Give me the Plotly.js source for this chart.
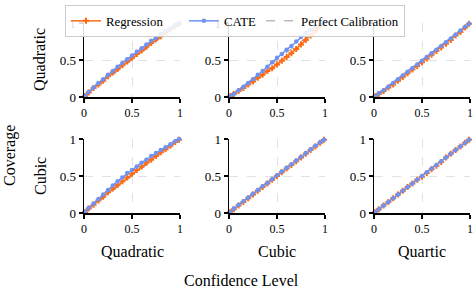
<!DOCTYPE html>
<html>
<head>
<meta charset="utf-8">
<script src="https://cdn.plot.ly/plotly-3.0.1.min.js"></script>
<style>html,body{margin:0;padding:0;background:#fff}#chart{width:476px;height:290px}</style>
</head>
<body>
<div id="chart"></div>
<script>
// Confidence levels (x)
const levels = [0.01,0.05,0.10,0.15,0.20,0.25,0.30,0.35,0.40,0.45,0.50,0.55,0.60,0.65,0.70,0.75,0.80,0.85,0.90,0.95,0.99];

// Row labels (y) and column labels (x)
const rowLabels = ["Quadratic", "Cubic"];
const colLabels = ["Quadratic", "Cubic", "Quartic"];
const tickVals = [0, 0.5, 1];
const tickText = ["0", "0.5", "1"];
const seriesNames = ["Regression", "CATE", "Perfect Calibration"];
const calibX = [0, 1];
const calibY = [0, 1];

// Coverage per panel (row, col)
const reg_r1c1  = [0.01,0.06,0.12,0.17,0.22,0.28,0.33,0.38,0.43,0.48,0.53,0.58,0.63,0.68,0.73,0.78,0.82,0.87,0.92,0.96,0.99];
const cate_r1c1 = [0.02,0.07,0.13,0.19,0.24,0.30,0.35,0.41,0.46,0.51,0.56,0.61,0.66,0.71,0.76,0.80,0.85,0.89,0.93,0.97,0.995];
const reg_r1c2  = [0.01,0.04,0.08,0.12,0.17,0.21,0.26,0.30,0.35,0.39,0.44,0.49,0.54,0.59,0.65,0.71,0.77,0.83,0.90,0.96,0.99];
const cate_r1c2 = [0.01,0.04,0.09,0.14,0.19,0.24,0.30,0.35,0.41,0.47,0.53,0.58,0.64,0.69,0.75,0.81,0.86,0.91,0.96,0.99,1.00];
const reg_r1c3  = [0.01,0.04,0.08,0.13,0.17,0.22,0.27,0.32,0.37,0.42,0.47,0.52,0.57,0.62,0.67,0.72,0.77,0.83,0.88,0.94,0.99];
const cate_r1c3 = [0.01,0.05,0.09,0.14,0.19,0.24,0.29,0.34,0.39,0.44,0.49,0.54,0.59,0.64,0.69,0.74,0.79,0.84,0.90,0.95,0.99];
const reg_r2c1  = [0.01,0.06,0.11,0.17,0.22,0.28,0.33,0.38,0.43,0.48,0.53,0.58,0.63,0.68,0.72,0.77,0.82,0.86,0.91,0.96,0.99];
const cate_r2c1 = [0.02,0.07,0.13,0.19,0.25,0.31,0.37,0.43,0.48,0.54,0.58,0.63,0.68,0.72,0.77,0.81,0.85,0.89,0.93,0.97,1.00];
const reg_r2c2  = [0.01,0.05,0.10,0.15,0.20,0.25,0.30,0.35,0.40,0.45,0.50,0.55,0.60,0.65,0.70,0.75,0.80,0.85,0.90,0.95,0.99];
const cate_r2c2 = [0.01,0.06,0.11,0.16,0.21,0.26,0.31,0.36,0.41,0.46,0.51,0.56,0.61,0.66,0.71,0.76,0.81,0.86,0.91,0.96,0.99];
const reg_r2c3  = [0.01,0.05,0.10,0.15,0.20,0.25,0.30,0.35,0.40,0.45,0.49,0.54,0.59,0.64,0.69,0.75,0.80,0.85,0.90,0.95,0.99];
const cate_r2c3 = [0.01,0.05,0.10,0.15,0.20,0.25,0.30,0.35,0.40,0.45,0.50,0.55,0.60,0.65,0.70,0.75,0.80,0.85,0.90,0.95,0.99];

const panels = [
  [reg_r1c1, cate_r1c1], [reg_r1c2, cate_r1c2], [reg_r1c3, cate_r1c3],
  [reg_r2c1, cate_r2c1], [reg_r2c2, cate_r2c2], [reg_r2c3, cate_r2c3]
];

const W = 476, H = 290;
const ORANGE = "#FF6A13", BLUE = "#6E93F2";
const FONT = "Liberation Serif";
const PAD = "\u00a0\u00a0\u00a0\u00a0\u00a0";

const colPx = [[84,180],[229,325],[374,470]];
const rowPx = [[23,97],[139,213]];

const traces = [];
const layout = {
  width: W, height: H,
  margin: {l:0, r:0, t:0, b:0},
  paper_bgcolor: "#fff", plot_bgcolor: "#fff",
  font: {family: FONT, size: 12, color: "#000"},
  showlegend: true,
  legend: {
    orientation: "h", x: 65/W, y: 1 - 5/H, xanchor: "left", yanchor: "top",
    bgcolor: "rgba(255,255,255,0.85)", bordercolor: "#cccccc", borderwidth: 1,
    font: {family: FONT, size: 12.8, color: "#000"}, itemwidth: 30, tracegroupgap: 0
  },
  annotations: []
};

panels.forEach((p, i) => {
  const r = Math.floor(i / 3), c = i % 3;
  const n = i + 1;
  const xa = n === 1 ? "x" : "x" + n;
  const ya = n === 1 ? "y" : "y" + n;
  const axCommon = {
    range: [0, 1], tickvals: tickVals, ticktext: tickText,
    showline: true, linecolor: "#000", linewidth: 1.5,
    ticks: "outside", ticklen: 4, tickwidth: 1.3, tickcolor: "#000",
    showgrid: true, gridcolor: "#e2e2e2", griddash: "dash", gridwidth: 1,
    zeroline: false, fixedrange: true
  };
  layout["xaxis" + (n === 1 ? "" : n)] = Object.assign({}, axCommon, {
    domain: [colPx[c][0] / W, colPx[c][1] / W], anchor: ya,
    tickfont: {family: FONT, size: 12, color: "#000"}
  });
  layout["yaxis" + (n === 1 ? "" : n)] = Object.assign({}, axCommon, {
    domain: [1 - rowPx[r][1] / H, 1 - rowPx[r][0] / H], anchor: xa,
    tickfont: {family: FONT, size: 13, color: "#000"}
  });
  traces.push({
    x: calibX, y: calibY, xaxis: xa, yaxis: ya, mode: "lines",
    line: {color: "#999", width: 1, dash: "dash"},
    name: seriesNames[2], showlegend: i === 0, legendrank: 3, cliponaxis: false
  });
  traces.push({
    x: levels, y: p[0], xaxis: xa, yaxis: ya, mode: "lines+markers",
    line: {color: ORANGE, width: 1.5},
    marker: {symbol: "cross", size: 5, color: ORANGE},
    name: seriesNames[0] + PAD, showlegend: i === 0, legendrank: 1, cliponaxis: false
  });
  traces.push({
    x: levels, y: p[1], xaxis: xa, yaxis: ya, mode: "lines+markers",
    line: {color: BLUE, width: 1.5},
    marker: {symbol: "circle", size: 4.5, color: BLUE},
    name: seriesNames[1], showlegend: i === 0, legendrank: 2, cliponaxis: false
  });
});

function ann(text, px, py, size, angle) {
  layout.annotations.push({
    text: text, xref: "paper", yref: "paper", x: px / W, y: 1 - py / H,
    xanchor: "center", yanchor: "middle", showarrow: false,
    textangle: angle || 0, font: {family: FONT, size: size, color: "#000"}
  });
}
ann(rowLabels[0], 40, 60, 16, -90);
ann(rowLabels[1], 40, 176, 16, -90);
ann("Coverage", 10, 156, 16, -90);
ann(colLabels[0], 132, 251, 16);
ann(colLabels[1], 277, 251, 16);
ann(colLabels[2], 422, 251, 16);
ann("Confidence Level", 241, 280, 16);

Plotly.newPlot("chart", traces, layout, {staticPlot: true, displayModeBar: false});
</script>
</body>
</html>
